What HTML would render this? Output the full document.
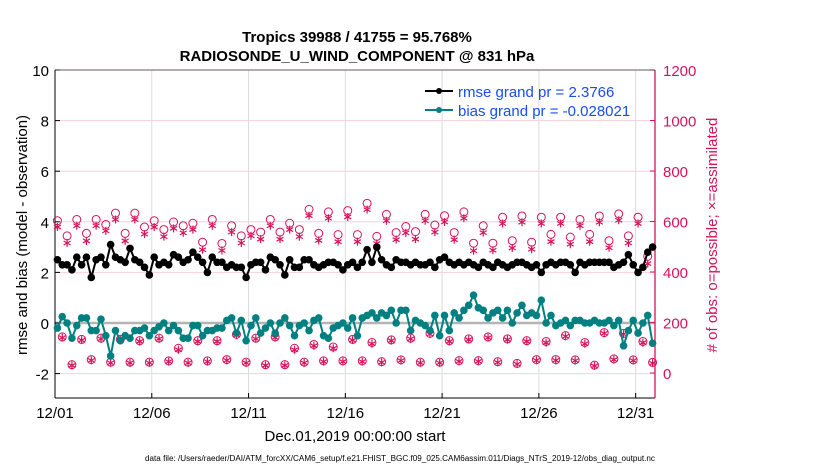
<!DOCTYPE html>
<html><head><meta charset="utf-8"><style>
body{margin:0;background:#fff;}
svg{display:block;font-family:"Liberation Sans",Arial,sans-serif;}
</style></head><body>
<svg id="chart" width="830" height="470" viewBox="0 0 830 470">
<g id="grid"></g>
<g id="axes"></g>
<g id="marks"></g>
<text x="357" y="42" text-anchor="middle" font-size="15" font-weight="bold">Tropics 39988 / 41755 = 95.768%</text>
<text x="357" y="61" text-anchor="middle" font-size="15" font-weight="bold">RADIOSONDE_U_WIND_COMPONENT @ 831 hPa</text>
<text x="355" y="441" text-anchor="middle" font-size="15">Dec.01,2019 00:00:00 start</text>
<text x="400" y="461" text-anchor="middle" font-size="8" textLength="510" lengthAdjust="spacingAndGlyphs">data file: /Users/raeder/DAI/ATM_forcXX/CAM6_setup/f.e21.FHIST_BGC.f09_025.CAM6assim.011/Diags_NTrS_2019-12/obs_diag_output.nc</text>
<text transform="translate(27,235) rotate(-90)" text-anchor="middle" font-size="15">rmse and bias (model - observation)</text>
<text transform="translate(717,235) rotate(-90)" text-anchor="middle" font-size="15" fill="#d6135a"># of obs: o=possible; ×=assimilated</text>
<g>
<line x1="425" y1="91" x2="453" y2="91" stroke="#000" stroke-width="2"/>
<circle cx="439" cy="91" r="3" fill="#000"/>
<text x="458" y="97" font-size="15" fill="#1a4cf0">rmse grand pr = 2.3766</text>
<line x1="425" y1="110" x2="453" y2="110" stroke="#008080" stroke-width="2"/>
<circle cx="439" cy="110" r="3" fill="#008080"/>
<text x="458" y="116" font-size="15" fill="#1a4cf0">bias grand pr = -0.028021</text>
</g>
</svg>
<script>
const xTickLabels=["12/01","12/06","12/11","12/16","12/21","12/26","12/31"];
const xTickDays=[0,5,10,15,20,25,30];
const leftTicks=[-2,0,2,4,6,8,10];
const rightTicks=[0,200,400,600,800,1000,1200];
const rmse=[2.5,2.3,2.3,2.1, 2.6,2.3,2.6,1.8, 2.5,2.6,2.3,3.1, 2.6,2.5,2.4,2.95, 2.5,2.4,2.2,1.9, 2.6,2.3,2.4,2.3, 2.7,2.6,2.4,2.5, 2.8,2.6,2.4,2.0, 2.6,2.4,2.4,2.2, 2.3,2.2,2.2,1.8, 2.3,2.4,2.4,2.1, 2.6,2.5,2.3,1.9, 2.5,2.2,2.2,2.5, 2.5,2.3,2.2,2.3, 2.4,2.4,2.3,2.1, 2.3,2.4,2.2,2.4, 2.9,2.4,3.0,2.5, 2.3,2.2,2.5,2.4, 2.4,2.3,2.4,2.3, 2.3,2.4,2.2,2.5, 2.6,2.4,2.3,2.4, 2.3,2.4,2.3,2.2, 2.4,2.3,2.2,2.4, 2.3,2.2,2.3,2.4, 2.4,2.3,2.2,2.3, 2.0,2.3,2.4,2.3, 2.4,2.4,2.3,2.0, 2.4,2.3,2.4,2.4, 2.4,2.4,2.4,2.2, 2.3,2.4,2.7,2.3, 2.0,2.2,2.8,3.0];
const bias=[-0.2,0.25,0.0,-0.6, -0.1,0.2,0.2,-0.3, -0.3,0.15,-0.5,-1.3, -0.3,-0.7,-0.5,-0.6, -0.3,-0.3,-0.2,-0.5, -0.3,-0.15,0.0,-0.3, -0.1,-0.3,-0.6,-0.6, -0.1,-0.1,-0.5,-0.3, -0.3,-0.2,-0.2,0.1, 0.2,-0.4,0.1,-0.7, -0.1,0.2,-0.4,-0.2, 0.0,-0.4,0.0,0.2, -0.1,-0.5,-0.1,0.0, -0.3,0.1,0.2,-0.5, -0.6,-0.2,-0.1,0.0, -0.2,0.2,-0.5,0.2, 0.3,0.4,0.2,0.4, 0.3,0.5,0.0,0.5, 0.5,-0.3,0.1,0.0, -0.1,-0.3,0.3,-0.5, 0.3,-0.3,0.4,0.2, 0.5,0.7,1.1,0.6, 0.5,0.2,0.4,0.5, 0.2,0.5,0.0,0.4, 0.7,0.3,0.4,0.3, 0.9,0.0,0.3,-0.1, 0.0,0.1,-0.1,0.1, 0.1,0.0,0.0,0.1, 0.0,0.0,0.1,-0.1, 0.1,-0.9,-0.3,0.1, -0.4,0.0,0.3,-0.8];
const possibleSynA=[603,543,608,553,608,588,633,553,633,578,603,568,598,583,593,518,608,513,583,543,568,558,608,558,593,568,648,553,638,548,643,548,672,541,628,556,580,560,628,586,623,556,638,514,583,514,617,524,622,518,617,549,617,538,608,549,622,524,630,543,617,462];
const assimSynA=[578,515,583,523,583,563,608,523,608,550,578,540,573,555,568,488,583,485,558,515,543,530,583,530,568,540,623,525,613,520,618,520,647,513,603,528,555,530,603,558,598,528,613,484,556,486,592,495,597,490,592,520,592,510,583,520,597,496,605,515,592,433];
const possibleSynB=[143,33,133,53,138,43,133,43,128,43,138,48,98,43,128,48,128,53,153,43,138,33,143,33,98,43,113,48,103,48,133,48,121,45,131,52,138,43,157,43,128,49,135,49,143,45,135,38,128,53,125,53,148,52,121,31,160,56,157,52,125,42];
const assimSynB=[140,30,130,50,135,40,130,40,125,40,135,45,92,40,125,45,125,50,150,40,135,30,140,30,92,40,108,45,98,45,130,45,116,42,128,49,135,40,154,40,125,46,132,46,140,42,132,35,125,50,120,50,145,49,116,28,157,53,154,49,120,39];

const X0=55,X1=655,YT=70,YB=398,DAYS=31;
const PINK="#d6135a",TEAL="#008080";
const xs=d=>X0+(d/DAYS)*(X1-X0);
const yl=v=>323-25.3*v;
const yr=c=>373-0.2525*c;
const NS="http://www.w3.org/2000/svg";
function mk(tag,attrs,parent){const e=document.createElementNS(NS,tag);for(const k in attrs)e.setAttribute(k,attrs[k]);parent.appendChild(e);return e;}
const grid=document.getElementById('grid'),axes=document.getElementById('axes'),marks=document.getElementById('marks');

xTickDays.forEach((d,i)=>{
  const g=mk('line',{x1:xs(d),x2:xs(d),y1:YT,y2:YB,stroke:'#dcdcdc','stroke-width':1},grid);
  
  
  const t=mk('text',{x:xs(d),y:YB+20,'text-anchor':'middle','font-size':15},axes);
  t.textContent=xTickLabels[i];
  
  
  mk('line',{x1:xs(d),x2:xs(d),y1:YB,y2:YB-5,stroke:'#000'},axes);
});
leftTicks.forEach(v=>{
  const g=mk('line',{x1:X0,x2:X1,y1:yl(v),y2:yl(v),stroke:'#f6d0dc','stroke-width':1},grid);
  
  
  const t=mk('text',{x:X0-6,y:yl(v)+6,'text-anchor':'end','font-size':15},axes);
  t.textContent=String(v);
  
  
  mk('line',{x1:X0,x2:X0+5,y1:yl(v),y2:yl(v),stroke:'#000'},axes);
});
rightTicks.forEach(c=>{
  const t=mk('text',{x:X1+8,y:yr(c)+6,'font-size':15,fill:PINK},axes);
  t.textContent=String(c);
  
  
  mk('line',{x1:X1,x2:X1-5,y1:yr(c),y2:yr(c),stroke:PINK},axes);
});
const zl=mk('line',{x1:X0,x2:X1,y1:yl(0),y2:yl(0),stroke:'#b4b4b4','stroke-width':2.5},grid);


mk('line',{x1:X0,x2:X1,y1:YT,y2:YT,stroke:'#333','stroke-width':0.8},axes);
mk('line',{x1:X0,x2:X1,y1:YB,y2:YB,stroke:'#000','stroke-width':1},axes);
mk('line',{x1:X0,x2:X0,y1:YT,y2:YB,stroke:'#000','stroke-width':1},axes);
mk('line',{x1:X1,x2:X1,y1:YT,y2:YB,stroke:PINK,'stroke-width':1.3},axes);

function star(cx,cy,parent){
  const s=4;let d='';
  for(let a=0;a<3;a++){const ang=Math.PI/2+a*Math.PI/3;const dx=s*Math.cos(ang),dy=s*Math.sin(ang);d+=`M${cx-dx},${cy-dy}L${cx+dx},${cy+dy}`;}
  return mk('path',{d:d,stroke:PINK,'stroke-width':1.2,fill:'none'},parent);
}
function drawObs(poss,assim,offset){
  poss.forEach((c,k)=>{
    const d=offset+0.5*k;
    const ci=mk('circle',{cx:xs(d),cy:yr(c),r:4,fill:'none',stroke:PINK,'stroke-width':1},marks);
    
    
    const st=star(xs(d),yr(assim[k]),marks);
    
    
  });
}
drawObs(possibleSynA,assimSynA,0.125);
drawObs(possibleSynB,assimSynB,0.375);

function series(vals,color,name){
  const pts=vals.map((v,i)=>[xs(0.125+0.25*i),yl(v)]);
  const pl=mk('polyline',{points:pts.map(p=>p.join(',')).join(' '),fill:'none',stroke:color,'stroke-width':2},marks);
  
  
  pts.forEach(p=>{
    const c=mk('circle',{cx:p[0],cy:p[1],r:3.8,fill:color},marks);
    
    
  });
}
series(rmse,'#000','rmse');
series(bias,TEAL,'bias');
</script>
</body></html>
